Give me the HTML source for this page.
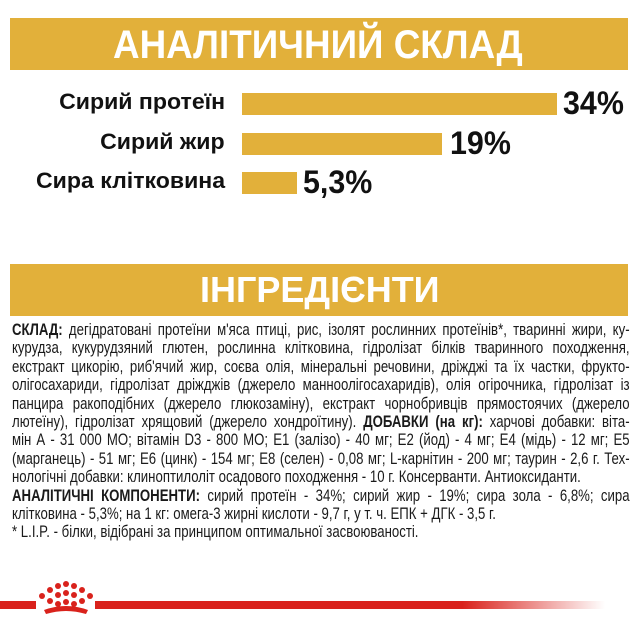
<!DOCTYPE html>
<html><head><meta charset="utf-8"><style>
body{margin:0;width:640px;height:640px;background:#fff;position:relative;overflow:hidden;font-family:"Liberation Sans",sans-serif;}
.band{position:absolute;left:10px;width:618px;background:#E2B03A;}
.t{position:absolute;white-space:nowrap;transform-origin:0 0;font-weight:bold;}
.r{position:absolute;white-space:nowrap;transform-origin:100% 0;font-weight:bold;right:415px;text-align:right;transform:scaleX(1.05);}
.bar{position:absolute;left:242px;background:#E2B03A;height:22px;}
#txt{position:absolute;left:12px;top:321px;width:772px;transform:scaleX(0.8);transform-origin:0 0;font-size:16.5px;line-height:18.4px;color:#1a1a1a;}
#txt div{text-align:justify;text-align-last:justify;white-space:nowrap;}
#txt div.l{text-align-last:left;}
b{font-weight:bold;}
</style></head><body>
<div class="band" style="top:18px;height:52px"></div>
<div class="t" style="left:113px;top:23px;font-size:40px;color:#fff;transform:scaleX(0.92)">АНАЛІТИЧНИЙ СКЛАД</div>
<div class="band" style="top:264px;height:52px"></div>
<div class="t" style="left:200px;top:269px;font-size:36px;color:#fff;transform:scaleX(1.0)">ІНГРЕДІЄНТИ</div>

<div class="r" style="top:89px;font-size:22px;color:#111;">Сирий протеїн</div>
<div class="r" style="top:129px;font-size:22px;color:#111;">Сирий жир</div>
<div class="r" style="top:168px;font-size:22px;color:#111;">Сира клітковина</div>
<div class="bar" style="top:93px;width:315px"></div>
<div class="bar" style="top:133px;width:200px"></div>
<div class="bar" style="top:172px;width:55px"></div>
<div class="t" style="left:563px;top:85px;font-size:32px;color:#111;transform:scaleX(0.95)">34%</div>
<div class="t" style="left:450px;top:125px;font-size:32px;color:#111;transform:scaleX(0.95)">19%</div>
<div class="t" style="left:303px;top:164px;font-size:32px;color:#111;transform:scaleX(0.95)">5,3%</div>

<div id="txt">
<div><b>СКЛАД:</b> дегідратовані протеїни м'яса птиці, рис, ізолят рослинних протеїнів*, тваринні жири, ку-</div>
<div>курудза, кукурудзяний глютен, рослинна клітковина, гідролізат білків тваринного походження,</div>
<div>екстракт цикорію, риб'ячий жир, соєва олія, мінеральні речовини, дріжджі та їх частки, фрукто-</div>
<div>олігосахариди, гідролізат дріжджів (джерело манноолігосахаридів), олія огірочника, гідролізат із</div>
<div>панцира ракоподібних (джерело глюкозаміну), екстракт чорнобривців прямостоячих (джерело</div>
<div>лютеїну), гідролізат хрящовий (джерело хондроїтину). <b>ДОБАВКИ (на кг):</b> харчові добавки: віта-</div>
<div>мін А - 31 000 МО; вітамін D3 - 800 МО; Е1 (залізо) - 40 мг; Е2 (йод) - 4 мг; Е4 (мідь) - 12 мг; Е5</div>
<div>(марганець) - 51 мг; Е6 (цинк) - 154 мг; Е8 (селен) - 0,08 мг; L-карнітин - 200 мг; таурин - 2,6 г. Тех-</div>
<div class="l">нологічні добавки: клиноптилоліт осадового походження - 10 г. Консерванти. Антиоксиданти.</div>
<div><b>АНАЛІТИЧНІ КОМПОНЕНТИ:</b> сирий протеїн - 34%; сирий жир - 19%; сира зола - 6,8%; сира</div>
<div class="l">клітковина - 5,3%; на 1 кг: омега-3 жирні кислоти - 9,7 г, у т. ч. ЕПК + ДГК - 3,5 г.</div>
<div class="l">* L.I.P. - білки, відібрані за принципом оптимальної засвоюваності.</div>
</div>

<div style="position:absolute;left:0;top:601px;width:36px;height:8px;background:#D9221C"></div>
<div style="position:absolute;left:95px;top:601px;width:510px;height:8px;background:linear-gradient(to right,#D9221C 0%,#D9221C 72%,rgba(217,34,28,0) 100%)"></div>
<svg style="position:absolute;left:36px;top:580px" width="60" height="40" viewBox="0 0 60 40">
<g fill="#D9221C">
<circle cx="30" cy="4" r="3"/><circle cx="22" cy="6" r="3"/><circle cx="38" cy="6" r="3"/>
<circle cx="14" cy="10" r="3"/><circle cx="46" cy="10" r="3"/>
<circle cx="6" cy="16" r="3"/><circle cx="54" cy="16" r="3"/>
<circle cx="22" cy="15" r="3"/><circle cx="30" cy="13" r="3"/><circle cx="38" cy="15" r="3"/>
<circle cx="14" cy="21" r="3"/><circle cx="46" cy="21" r="3"/>
<circle cx="22" cy="24" r="3"/><circle cx="30" cy="22" r="3"/><circle cx="38" cy="24" r="3"/>
</g>
<path d="M8 30 Q30 22 52 30 L50 34 Q30 28 10 34 Z" fill="#D9221C"/>
</svg>
</body></html>
